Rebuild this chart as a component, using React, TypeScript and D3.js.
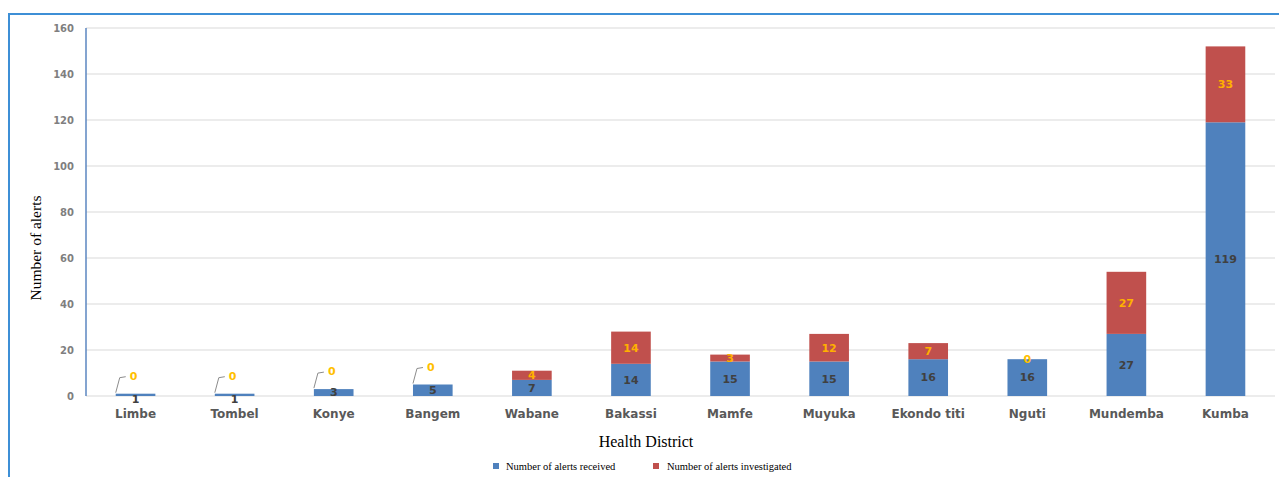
import React from "react";
import * as d3 from "d3";

const districts = [
  "Limbe", "Tombel", "Konye", "Bangem", "Wabane", "Bakassi",
  "Mamfe", "Muyuka", "Ekondo titi", "Nguti", "Mundemba", "Kumba",
];
const alertsReceived = [1, 1, 3, 5, 7, 14, 15, 15, 16, 16, 27, 119];
const alertsInvestigated = [0, 0, 0, 0, 4, 14, 3, 12, 7, 0, 27, 33];
const yTicks = [0, 20, 40, 60, 80, 100, 120, 140, 160];

const W = 1279;
const H = 477;
const margin = { left: 86, right: 4, top: 28, bottom: 81 };

const BLUE = "#4f81bd";
const RED = "#c0504d";
const SANS = "'DejaVu Sans', Verdana, sans-serif";
const SERIF = "'Liberation Serif', 'Times New Roman', serif";

export default function App() {
  const x = d3
    .scaleBand<string>()
    .domain(districts)
    .range([margin.left, W - margin.right])
    .paddingInner(0.6)
    .paddingOuter(0.3);
  const y = d3
    .scaleLinear()
    .domain([0, 160])
    .range([H - margin.bottom, margin.top]);

  const rows = districts.map((d, i) => ({
    d,
    rec: alertsReceived[i],
    inv: alertsInvestigated[i],
  }));
  const stack = d3.stack<any>().keys(["rec", "inv"])(rows);
  const [recLayer, invLayer] = stack;
  const bw = x.bandwidth();

  return (
    <svg
      width={W}
      height={H}
      style={{ position: "absolute", left: 0, top: 0, background: "#fff" }}
    >
      {/* frame */}
      <line x1={9} x2={9} y1={13} y2={H} stroke="#3d8fd6" strokeWidth={2} />
      <line x1={8} x2={W} y1={14} y2={14} stroke="#3d8fd6" strokeWidth={2} />

      {/* gridlines and y ticks */}
      {yTicks.map((t) => (
        <g key={t}>
          {t > 0 && (
            <line
              x1={margin.left}
              x2={W - margin.right}
              y1={y(t)}
              y2={y(t)}
              stroke="#d9d9d9"
              strokeWidth={1}
            />
          )}
          <text
            x={74}
            y={y(t)}
            dy="0.35em"
            textAnchor="end"
            fontFamily={SANS}
            fontWeight="bold"
            fontSize={10}
            fill="#7f7f7f"
          >
            {t}
          </text>
        </g>
      ))}
      <line
        x1={margin.left}
        x2={W - margin.right}
        y1={y(0)}
        y2={y(0)}
        stroke="#d9d9d9"
        strokeWidth={1}
      />
      <line
        x1={margin.left}
        x2={margin.left}
        y1={y(160)}
        y2={y(0)}
        stroke="#5b86c0"
        strokeWidth={1.5}
      />

      {/* stacked bars */}
      {recLayer.map((s, i) => (
        <rect
          key={"r" + i}
          x={x(districts[i])}
          y={y(s[1])}
          width={bw}
          height={y(s[0]) - y(s[1])}
          fill={BLUE}
        />
      ))}
      {invLayer.map((s, i) =>
        s[1] > s[0] ? (
          <rect
            key={"i" + i}
            x={x(districts[i])}
            y={y(s[1])}
            width={bw}
            height={y(s[0]) - y(s[1])}
            fill={RED}
          />
        ) : null
      )}

      {/* value labels: received */}
      {recLayer.map((s, i) => (
        <text
          key={"rl" + i}
          x={(x(districts[i]) as number) + bw / 2}
          y={(y(s[0]) + y(s[1])) / 2}
          dy={alertsReceived[i] < 2 ? "0.7em" : "0.35em"}
          textAnchor="middle"
          fontFamily={SANS}
          fontWeight="bold"
          fontSize={11}
          fill="#404040"
        >
          {alertsReceived[i]}
        </text>
      ))}

      {/* value labels: investigated */}
      {invLayer.map((s, i) => {
        const cx = (x(districts[i]) as number) + bw / 2;
        const v = alertsInvestigated[i];
        if (v === 0 && alertsReceived[i] < 10) {
          // zero value on short bars: label lifted above with a leader line
          const top = y(s[1]);
          const ly = top - 16;
          const left = x(districts[i]) as number;
          return (
            <g key={"il" + i}>
              <polyline
                points={`${left},${top - 1} ${left + 4},${ly} ${left + 10},${ly - 1}`}
                fill="none"
                stroke="#8c8c8c"
                strokeWidth={1}
              />
              <text
                x={cx - 2}
                y={ly}
                dy="0.2em"
                textAnchor="middle"
                fontFamily={SANS}
                fontWeight="bold"
                fontSize={11}
                fill="#ffc000"
              >
                {v}
              </text>
            </g>
          );
        }
        return (
          <text
            key={"il" + i}
            x={cx}
            y={(y(s[0]) + y(s[1])) / 2}
            dy="0.35em"
            textAnchor="middle"
            fontFamily={SANS}
            fontWeight="bold"
            fontSize={11}
            fill={v === 0 ? "#ffc000" : "#ffb000"}
          >
            {v}
          </text>
        );
      })}

      {/* category labels */}
      {districts.map((d) => (
        <text
          key={d}
          x={(x(d) as number) + bw / 2}
          y={414}
          dy="0.35em"
          textAnchor="middle"
          fontFamily={SANS}
          fontWeight="bold"
          fontSize={12}
          fill="#595959"
        >
          {d}
        </text>
      ))}

      {/* axis titles */}
      <text
        x={646}
        y={441}
        dy="0.35em"
        textAnchor="middle"
        fontFamily={SERIF}
        fontSize={16}
        fill="#000"
      >
        Health District
      </text>
      <text
        transform={`translate(36, ${(y(0) + y(160)) / 2 + 36}) rotate(-90)`}
        textAnchor="middle"
        dy="0.35em"
        fontFamily={SERIF}
        fontSize={15.5}
        fill="#000"
      >
        Number of alerts
      </text>

      {/* legend */}
      <rect x={493} y={463} width={6} height={6} fill={BLUE} />
      <text x={506} y={466} dy="0.35em" fontFamily={SERIF} fontSize={10.5} fill="#000">
        Number of alerts received
      </text>
      <rect x={653} y={463} width={6} height={6} fill={RED} />
      <text x={667} y={466} dy="0.35em" fontFamily={SERIF} fontSize={10.5} fill="#000">
        Number of alerts investigated
      </text>
    </svg>
  );
}
